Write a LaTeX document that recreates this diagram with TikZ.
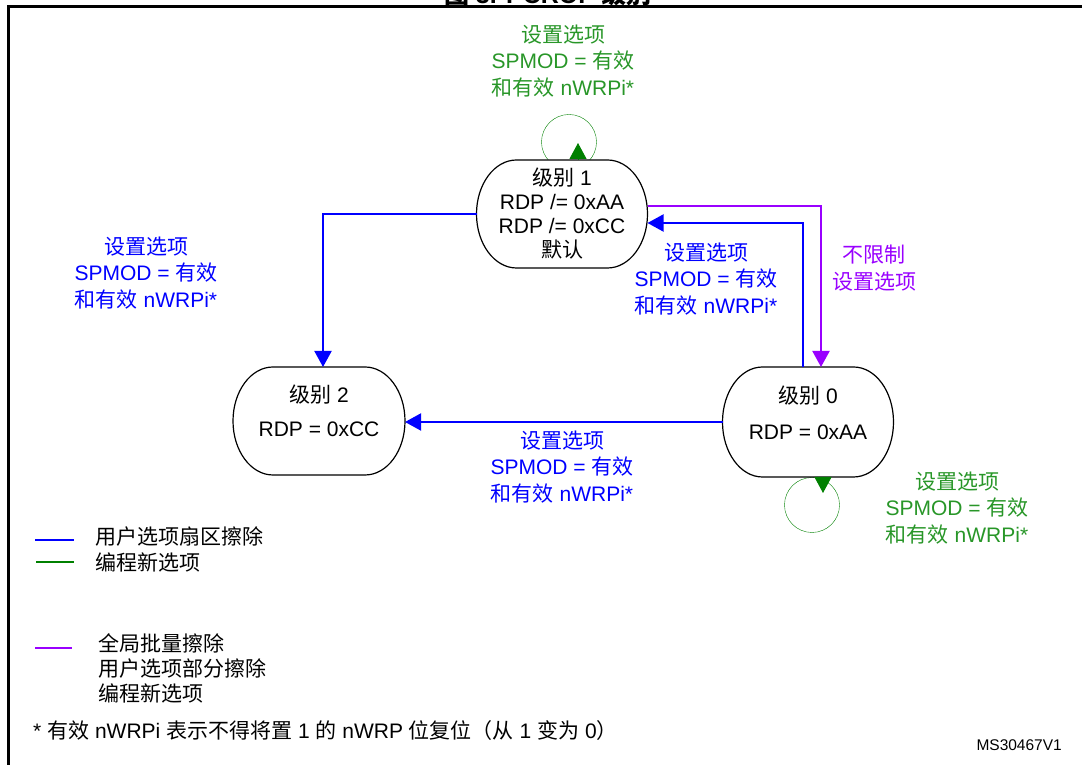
\documentclass[tikz,border=0pt]{standalone}
\usepackage{fontspec}
\setmainfont{Liberation Sans}
\newfontfamily\cjk{Noto Sans CJK SC}
\usetikzlibrary{arrows.meta,calc}
\definecolor{blu}{RGB}{0,0,255}
\definecolor{verde}{RGB}{0,128,0}
\definecolor{verdet}{RGB}{40,150,40}
\definecolor{viola}{RGB}{153,0,255}
\newcommand{\cn}[1]{{\cjk #1}}
\newcommand{\opzioni}{\cn{设置选项}\\SPMOD = \cn{有效}\\\cn{和有效} nWRPi*}
\tikzset{
  stato/.style={minimum width=171pt,minimum height=108pt,inner sep=0pt,outer sep=0pt},
  freccia/.style={line width=2pt,-{Triangle[length=16pt,width=17pt]}},
  etichetta/.style={align=center,font=\fontsize{21}{26.5}\selectfont}
}
\begin{document}
\begin{tikzpicture}[x=1pt,y=1pt,inner sep=0pt,font=\fontsize{21}{24}\selectfont]
\useasboundingbox (0,0) rectangle (1082,765);

\draw[line width=3pt] (8,0) -- (8,758) -- (1090,758);
\node[anchor=base,font=\fontsize{25}{30}\selectfont\bfseries] (titolo) at (548,761) {\cn{图} 3. PCROP \cn{级别}};

\node[stato] (lv1) at (562,551) {};
\node[stato,minimum width=172pt] (lv2) at (319,344) {};
\node[stato,minimum height=110pt] (lv0) at (808,343) {};

\draw[verde] ([xshift=7pt,yshift=18pt]lv1.north) circle (27.5pt);
\draw[verde] ([xshift=4pt,yshift=-28pt]lv0.south) circle (27.5pt);

\foreach \s/\r in {lv1/54,lv2/54,lv0/55}
  \draw[fill=white,line width=1.2pt] ([xshift=40pt]\s.north west) -- ([xshift=-40pt]\s.north east)
    arc[start angle=90,end angle=-90,x radius=40pt,y radius=\r pt]
    -- ([xshift=40pt]\s.south west)
    arc[start angle=270,end angle=90,x radius=40pt,y radius=\r pt] -- cycle;

\node[align=center] (t1) at (lv1.center) {\cn{级别} 1\\RDP /= 0xAA\\RDP /= 0xCC\\\cn{默认}};
\node[align=center] (t2) at ([yshift=10pt]lv2.center) {\cn{级别} 2\\[10pt]RDP = 0xCC};
\node[align=center] (t0) at ([yshift=9pt]lv0.center) {\cn{级别} 0\\[12pt]RDP = 0xAA};

\draw[blu,freccia] (lv1.west) -| ([xshift=4pt]lv2.north);
\draw[viola,freccia] ([yshift=8pt]lv1.east) -| ([xshift=13pt]lv0.north);
\draw[blu,freccia] ([xshift=-5pt]lv0.north) |- ([yshift=-9pt]lv1.east);
\draw[blu,freccia] (lv0.west) -- (lv0.west -| lv2.east);
\draw[verde,freccia,line width=1pt] ([xshift=16pt]lv1.north) -- ++(0,17);
\draw[verde,freccia,line width=1pt] ([xshift=15pt]lv0.south) -- ++(0,-16);

\node[etichetta,text=verdet] (op1) at (563,704) {\opzioni};
\node[etichetta,text=blu] (op2) at (146,492) {\opzioni};
\node[etichetta,text=blu] (op3) at (706,486) {\opzioni};
\node[etichetta,text=viola] (op4) at (874,497) {\cn{不限制}\\\cn{设置选项}};
\node[etichetta,text=blu] (op5) at (562,298) {\opzioni};
\node[etichetta,text=verdet] (op6) at (957,257) {\opzioni};

\draw[blu,line width=1.5pt] (35,225) -- (74,225);
\node[anchor=west] (leg1) at (95,228) {\cn{用户选项扇区擦除}};
\draw[verde,line width=1.5pt] (36,203) -- (74,203);
\node[anchor=west] (leg2) at (95,203) {\cn{编程新选项}};
\draw[viola,line width=1.5pt] (35,117) -- (72,117);
\node[anchor=west,align=left,font=\fontsize{21}{25}\selectfont] (leg3) at (98,97) {\cn{全局批量擦除}\\\cn{用户选项部分擦除}\\\cn{编程新选项}};

\node[anchor=west] (nota) at (33,34) {* \cn{有效} nWRPi \cn{表示不得将置} 1 \cn{的} nWRP \cn{位复位（从} 1 \cn{变为} 0\cn{）}};
\node[anchor=east,font=\fontsize{15.5}{18}\selectfont] (codice) at (1062,20) {MS30467V1};
\end{tikzpicture}
\end{document}
